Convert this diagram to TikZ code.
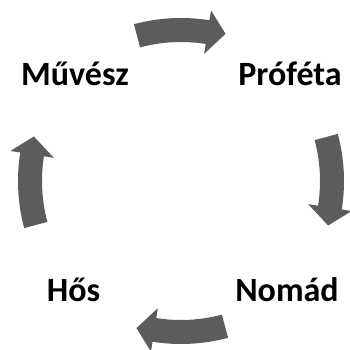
\documentclass[tikz,border=0pt]{standalone}
\usepackage{fontspec}
\setmainfont{Carlito}
\definecolor{arrowgray}{RGB}{92,92,92}
\tikzset{
  word/.style={font=\bfseries\fontsize{34}{40}\selectfont, anchor=base, inner sep=0pt},
  cyclearrow/.pic={
    \begin{scope}[shift={(0,-19)}]
    \fill[arrowgray] (105:182) arc[start angle=105, end angle=81, radius=182]
      -- (81:192) -- (75:172) -- (81:148) -- (81:158)
      arc[start angle=81, end angle=105, radius=158] -- cycle;
    \end{scope}
  }
}
\begin{document}
\begin{tikzpicture}[x=1pt,y=1pt]
\useasboundingbox (0,0) rectangle (349,350);
\coordinate (C) at (181,169);
\node[word] (muvesz) at (75,264) {Művész};
\node[word] (profeta) at (290,264) {Próféta};
\node[word] (nomad) at (287,48) {Nomád};
\node[word] (hos) at (73.5,48) {Hős};
\pic[rotate=0] at (C) {cyclearrow};
\pic[rotate=-90] at (C) {cyclearrow};
\pic[rotate=-180] at (C) {cyclearrow};
\pic[rotate=-270] at (C) {cyclearrow};
\end{tikzpicture}
\end{document}
